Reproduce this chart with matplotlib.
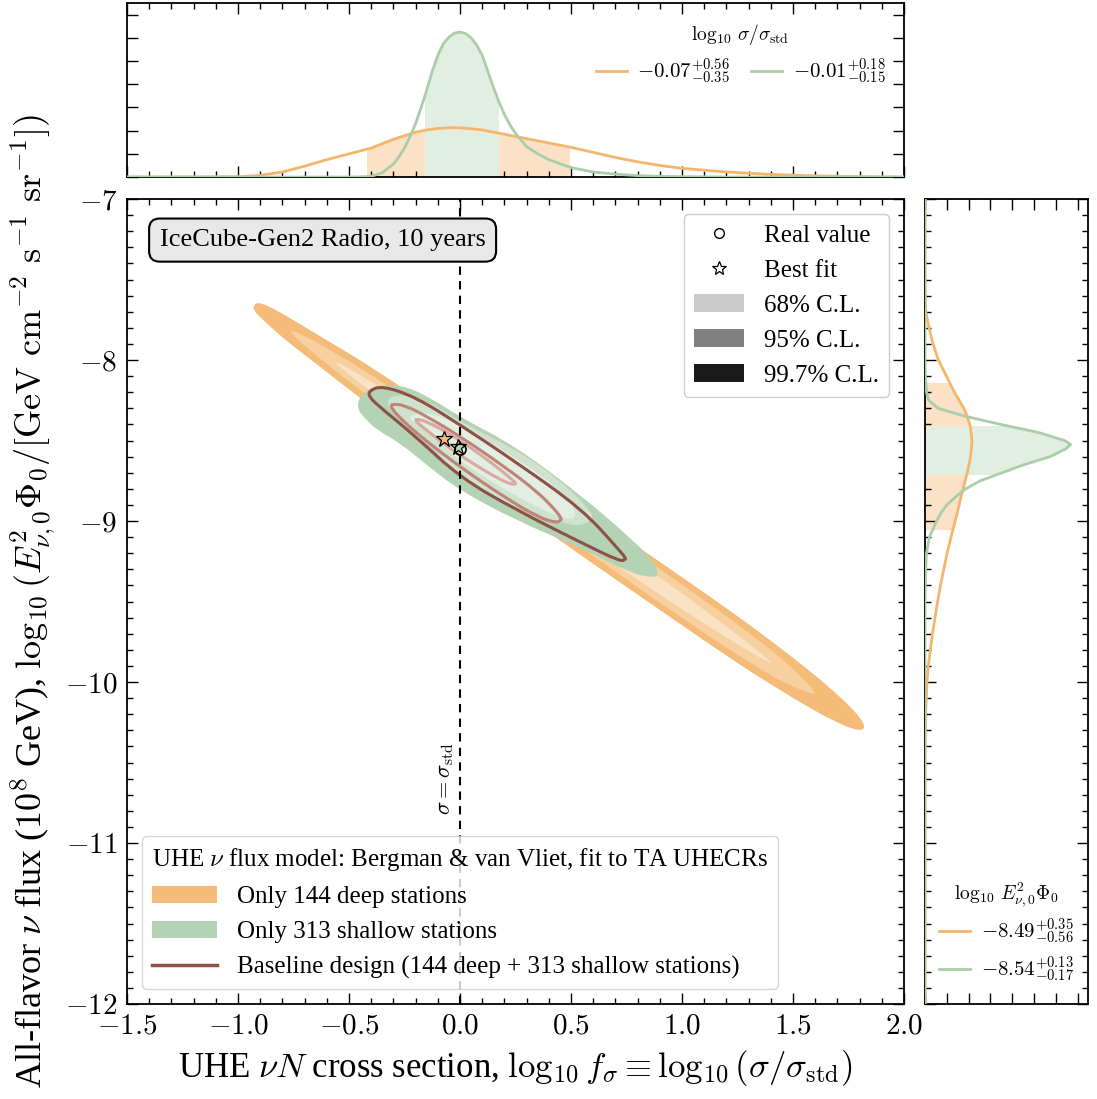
import matplotlib
matplotlib.use('Agg')
import matplotlib.pyplot as plt
import numpy as np
from matplotlib.lines import Line2D
from matplotlib.path import Path
from matplotlib.patches import Patch, PathPatch, Rectangle
from matplotlib.ticker import MultipleLocator, FormatStrFormatter

plt.rcParams['font.family'] = ['Liberation Serif', 'DejaVu Serif']
plt.rcParams['mathtext.fontset'] = 'cm'

# best fits and 68% intervals from the 1D posteriors
fsig_best = [-0.07, -0.01]
fsig_up = [0.56, 0.18]
fsig_lo = [0.35, 0.15]
flux_best = [-8.49, -8.54]
flux_up = [0.35, 0.13]
flux_lo = [0.56, 0.17]
real_fsig = 0.0
real_flux = -8.55

# 2D credible regions, only deep stations (68, 95, 99.7 %)
deep68_x = [-0.56, -0.5, -0.4, -0.2, 0.0, 0.3, 0.6, 0.9, 1.1, 1.3, 1.4]
deep68_hi = [-8.008, -8.052, -8.135, -8.314, -8.497, -8.776, -9.062, -9.347, -9.551, -9.759, -9.873]
deep68_lo = [-8.020, -8.090, -8.197, -8.400, -8.597, -8.888, -9.174, -9.459, -9.637, -9.809, -9.885]

deep95_x = [-0.76, -0.7, -0.6, -0.5, -0.4, -0.2, 0.0, 0.3, 0.6, 0.9, 1.2, 1.4, 1.5, 1.6]
deep95_hi = [-7.812, -7.850, -7.926, -8.009, -8.091, -8.276, -8.460, -8.739, -9.019, -9.297, -9.590, -9.798, -9.918, -10.057]
deep95_lo = [-7.836, -7.912, -8.026, -8.133, -8.241, -8.438, -8.634, -8.925, -9.217, -9.509, -9.788, -9.960, -10.030, -10.081]

deep997_x = [-0.93, -0.9, -0.8, -0.7, -0.6, -0.5, -0.4, -0.2, 0.0, 0.3, 0.6, 0.9, 1.2, 1.4, 1.6, 1.7, 1.77, 1.82]
deep997_hi = [-7.655, -7.640, -7.711, -7.794, -7.877, -7.959, -8.045, -8.227, -8.410, -8.689, -8.969, -9.254, -9.540, -9.742, -9.957, -10.078, -10.169, -10.255]
deep997_lo = [-7.690, -7.735, -7.861, -7.968, -8.075, -8.183, -8.287, -8.487, -8.684, -8.975, -9.267, -9.552, -9.838, -10.016, -10.181, -10.252, -10.293, -10.300]

# only shallow stations
shal68_x = [-0.225, -0.135, 0.0, 0.257, 0.45, 0.518]
shal68_hi = [-8.342, -8.323, -8.404, -8.609, -8.807, -8.919]
shal68_lo = [-8.373, -8.447, -8.634, -8.851, -8.981, -8.994]

shal95_x = [-0.324, -0.27, -0.135, 0.0, 0.257, 0.45, 0.554, 0.595]
shal95_hi = [-8.236, -8.211, -8.261, -8.385, -8.559, -8.745, -8.888, -8.957]
shal95_lo = [-8.298, -8.360, -8.515, -8.745, -8.919, -9.012, -9.031, -8.981]

shal997_x = [-0.46, -0.43, -0.38, -0.27, -0.13, 0.0, 0.25, 0.55, 0.78, 0.87, 0.89]
shal997_hi = [-8.25, -8.20, -8.165, -8.15, -8.235, -8.355, -8.535, -8.845, -9.12, -9.25, -9.31]
shal997_lo = [-8.31, -8.36, -8.43, -8.515, -8.675, -8.81, -8.995, -9.17, -9.33, -9.35, -9.34]

# baseline design (deep + shallow)
base68_x = [-0.20, -0.15, -0.05, 0.05, 0.15, 0.22, 0.25]
base68_hi = [-8.365, -8.382, -8.455, -8.546, -8.647, -8.726, -8.762]
base68_lo = [-8.381, -8.436, -8.545, -8.636, -8.719, -8.768, -8.772]

base95_x = [-0.31, -0.25, -0.15, 0.0, 0.2, 0.35, 0.43, 0.455]
base95_hi = [-8.272, -8.280, -8.350, -8.474, -8.662, -8.820, -8.933, -8.980]
base95_lo = [-8.300, -8.388, -8.506, -8.664, -8.852, -8.974, -9.011, -8.996]

base997_x = [-0.41, -0.35, -0.2, 0.0, 0.25, 0.55, 0.72, 0.745]
base997_hi = [-8.19, -8.160, -8.230, -8.402, -8.632, -8.926, -9.185, -9.228]
base997_lo = [-8.23, -8.305, -8.475, -8.729, -8.929, -9.137, -9.250, -9.240]

# 1D marginal posteriors of log10 f_sigma (arbitrary normalisation)
fsig_grid_deep = [-1.5, -1.0, -0.9, -0.8, -0.7, -0.6, -0.5, -0.45, -0.4, -0.35, -0.3, -0.25, -0.2,
                  -0.15, -0.1, -0.05, 0.0, 0.05, 0.1, 0.15, 0.2, 0.25, 0.3, 0.35, 0.4, 0.5, 0.6,
                  0.7, 0.8, 0.9, 1.0, 1.2, 1.4, 1.6, 1.8, 2.0]
fsig_deep = [0, 0.002, 0.012, 0.035, 0.075, 0.12, 0.16, 0.18, 0.20, 0.23, 0.26, 0.285, 0.31,
             0.325, 0.335, 0.34, 0.34, 0.333, 0.325, 0.31, 0.295, 0.28, 0.265, 0.25, 0.235, 0.205, 0.17,
             0.135, 0.105, 0.08, 0.06, 0.035, 0.018, 0.008, 0.003, 0.0]
fsig_grid_shallow = [-1.5, -0.5, -0.45, -0.4, -0.35, -0.3, -0.275, -0.25, -0.225, -0.2, -0.175,
                     -0.15, -0.125, -0.1, -0.075, -0.05, -0.025, 0.0, 0.025, 0.05, 0.075, 0.1,
                     0.125, 0.15, 0.175, 0.2, 0.225, 0.25, 0.3, 0.35, 0.4, 0.5, 0.6, 0.7, 0.8,
                     0.9, 1.0, 1.2, 2.0]
fsig_shallow = [0, 0, 0.001, 0.005, 0.03, 0.09, 0.14, 0.2, 0.28, 0.37, 0.48,
                0.6, 0.73, 0.84, 0.92, 0.965, 0.993, 1.0, 0.99, 0.96, 0.91, 0.84,
                0.73, 0.62, 0.52, 0.43, 0.36, 0.3, 0.21, 0.16, 0.12, 0.065, 0.035, 0.02, 0.01,
                0.005, 0.003, 0, 0]

# 1D marginal posteriors of log10 E^2 Phi_0
flux_grid = [-12.0, -10.5, -10.2, -10.0, -9.9, -9.8, -9.7, -9.6, -9.5, -9.4, -9.3, -9.2, -9.1,
             -9.0, -8.95, -8.9, -8.85, -8.8, -8.75, -8.7, -8.65, -8.6, -8.55, -8.525, -8.5, -8.45, -8.4,
             -8.35, -8.3, -8.25, -8.2, -8.1, -8.0, -7.9, -7.8, -7.7, -7.5, -7.0]
flux_deep = [0, 0, 0.004, 0.014, 0.023, 0.037, 0.051, 0.069, 0.087, 0.106, 0.129, 0.152, 0.179,
             0.207, 0.221, 0.235, 0.248, 0.262, 0.276, 0.29, 0.302, 0.313, 0.319, 0.321, 0.322, 0.317, 0.308,
             0.29, 0.267, 0.235, 0.202, 0.147, 0.092, 0.055, 0.028, 0.005, 0, 0]
flux_shallow = [0, 0, 0, 0, 0, 0, 0, 0, 0, 0.002, 0.005, 0.01, 0.03,
                0.08, 0.11, 0.15, 0.21, 0.28, 0.38, 0.53, 0.68, 0.86, 0.97, 1.0, 0.96, 0.78, 0.52,
                0.28, 0.09, 0.025, 0.01, 0.003, 0, 0, 0, 0, 0, 0]

ORANGE = ['#fae2c4', '#f7d0a0', '#f4bc78']
GREEN = ['#e3eee2', '#cfe2ce', '#b4d3b4']
BROWN = ['#d8a8a2', '#bf837a', '#8e5047']
ORANGE_LINE = '#f4b66c'
GREEN_LINE = '#a9cea9'
ORANGE_FILL = '#fbe1c6'
GREEN_FILL = '#e3eee3'


def region(ax, x, hi, lo, **kw):
    # closed outline through the upper then lower edge, drawn as a smooth quadratic spline
    pts = np.array(list(zip(x, hi)) + list(zip(x[::-1], lo[::-1])))
    mids = (pts + np.roll(pts, -1, axis=0)) / 2
    verts = [mids[-1]]
    codes = [Path.MOVETO]
    for p, m in zip(pts, mids):
        verts += [p, m]
        codes += [Path.CURVE3, Path.CURVE3]
    ax.add_patch(PathPatch(Path(verts, codes), **kw))


def style_ticks(ax):
    ax.tick_params(which='both', direction='in', top=True, right=True, width=1.0)
    ax.tick_params(which='major', length=8)
    ax.tick_params(which='minor', length=4)
    for s in ax.spines.values():
        s.set_linewidth(1.3)


fig = plt.figure(figsize=(10.97, 10.99), dpi=100)
ax = fig.add_axes([0.1158, 0.0864, 0.7083, 0.7325])
ax_top = fig.add_axes([0.1158, 0.8389, 0.7083, 0.1583], sharex=ax)
ax_right = fig.add_axes([0.8432, 0.0864, 0.1486, 0.7325], sharey=ax)

# main panel: 2D regions
for x, hi, lo, c in [(deep997_x, deep997_hi, deep997_lo, ORANGE[2]),
                     (deep95_x, deep95_hi, deep95_lo, ORANGE[1]),
                     (deep68_x, deep68_hi, deep68_lo, ORANGE[0]),
                     (shal997_x, shal997_hi, shal997_lo, GREEN[2]),
                     (shal95_x, shal95_hi, shal95_lo, GREEN[1]),
                     (shal68_x, shal68_hi, shal68_lo, GREEN[0])]:
    region(ax, x, hi, lo, facecolor=c, edgecolor='none', lw=0, zorder=1)

for x, hi, lo, c in [(base997_x, base997_hi, base997_lo, BROWN[2]),
                     (base95_x, base95_hi, base95_lo, BROWN[1]),
                     (base68_x, base68_hi, base68_lo, BROWN[0])]:
    region(ax, x, hi, lo, facecolor='none', edgecolor=c, lw=2.2, zorder=2)

ax.axvline(real_fsig, color='k', ls=(0, (4, 3)), lw=1.5, zorder=3)
ax.text(real_fsig - 0.02, -10.6, r'$\sigma = \sigma_{\rm std}$', rotation=90,
        ha='right', va='center', fontsize=16)

ax.plot(fsig_best[0], flux_best[0], ls='none', marker='*', ms=12, mfc=ORANGE[2], mec='k', mew=0.9, zorder=5)
ax.plot(fsig_best[1], flux_best[1], ls='none', marker='*', ms=12, mfc=GREEN[2], mec='k', mew=0.9, zorder=5)
ax.plot(real_fsig, real_flux, ls='none', marker='o', ms=8, mfc='none', mec='k', mew=1.2, zorder=6)

ax.set_xlim(-1.5, 2.0)
ax.set_ylim(-12, -7)
ax.xaxis.set_major_locator(MultipleLocator(0.5))
ax.xaxis.set_minor_locator(MultipleLocator(0.1))
ax.yaxis.set_major_locator(MultipleLocator(1))
ax.yaxis.set_minor_locator(MultipleLocator(0.1))
ax.xaxis.set_major_formatter(FormatStrFormatter('$%.1f$'))
ax.yaxis.set_major_formatter(FormatStrFormatter('$%d$'))
style_ticks(ax)
ax.tick_params(which='major', labelsize=21, pad=7)

ax.set_xlabel(r'UHE $\nu N$ cross section, $\log_{10} f_\sigma \equiv \log_{10}(\sigma/\sigma_{\rm std})$',
              fontsize=25, labelpad=6)
ax.set_ylabel(r'All-flavor $\nu$ flux ($10^8$ GeV), $\log_{10}(E_{\nu,0}^2\Phi_0/[{\rm GeV\ cm^{-2}\ s^{-1}\ sr^{-1}}])$',
              fontsize=26, labelpad=5)

ax.text(0.042, 0.949, 'IceCube-Gen2 Radio, 10 years', transform=ax.transAxes, fontsize=19,
        ha='left', va='center',
        bbox=dict(boxstyle='round,pad=0.4', fc='#e8e8e8', ec='k', lw=1.5))

cl_handles = [Line2D([], [], ls='none', marker='o', ms=7, mfc='none', mec='k', mew=1.0),
              Line2D([], [], ls='none', marker='*', ms=10, mfc='none', mec='k', mew=0.9),
              Patch(fc='#cccccc'), Patch(fc='#808080'), Patch(fc='#1a1a1a')]
cl_labels = ['Real value', 'Best fit', '68% C.L.', '95% C.L.', '99.7% C.L.']
leg1 = ax.legend(cl_handles, cl_labels, loc='upper right', fontsize=18, fancybox=True,
                 edgecolor='#cccccc', framealpha=1, handlelength=2.0, labelspacing=0.5,
                 handletextpad=0.8, borderaxespad=0.6)
ax.add_artist(leg1)

model_handles = [Patch(fc=ORANGE[2]), Patch(fc=GREEN[2]), Line2D([], [], color=BROWN[2], lw=2.5)]
model_labels = ['Only 144 deep stations', 'Only 313 shallow stations',
                'Baseline design (144 deep + 313 shallow stations)']
ax.legend(model_handles, model_labels, loc='lower left', fontsize=18, title_fontsize=18,
          title=r'UHE $\nu$ flux model: Bergman & van Vliet, fit to TA UHECRs',
          alignment='left', fancybox=True, edgecolor='#cccccc', handlelength=2.6,
          labelspacing=0.5, handletextpad=0.8, borderaxespad=0.6)

# top panel: cross-section marginal
for grid, vals, best, up, lo, fill_c, z in [
        (fsig_grid_deep, fsig_deep, fsig_best[0], fsig_up[0], fsig_lo[0], ORANGE_FILL, 1),
        (fsig_grid_shallow, fsig_shallow, fsig_best[1], fsig_up[1], fsig_lo[1], GREEN_FILL, 2)]:
    f = ax_top.fill_between(grid, 0, vals, color=fill_c, lw=0, zorder=z)
    f.set_clip_path(Rectangle((best - lo, 0), up + lo, 2, transform=ax_top.transData))
ax_top.plot(fsig_grid_deep, fsig_deep, color=ORANGE_LINE, lw=2.0, zorder=3)
ax_top.plot(fsig_grid_shallow, fsig_shallow, color=GREEN_LINE, lw=2.0, zorder=3)
ax_top.set_ylim(0, 1.2)
ax_top.yaxis.set_major_locator(MultipleLocator(0.16))
ax_top.yaxis.set_minor_locator(MultipleLocator(0.16))
style_ticks(ax_top)
ax_top.tick_params(labelbottom=False, labelleft=False)

top_labels = [r'$%.2f^{+%.2f}_{-%.2f}$' % (b, u, l) for b, u, l in zip(fsig_best, fsig_up, fsig_lo)]
ax_top.legend([Line2D([], [], color=ORANGE_LINE, lw=2), Line2D([], [], color=GREEN_LINE, lw=2)],
              top_labels, ncol=2, loc='upper right', frameon=False, fontsize=15,
              title=r'$\log_{10}\,\sigma/\sigma_{\rm std}$', title_fontsize=14,
              handlelength=1.5, columnspacing=1.0, handletextpad=0.5, borderaxespad=0.5)

# right panel: flux marginal
for vals, best, up, lo, fill_c, z in [(flux_deep, flux_best[0], flux_up[0], flux_lo[0], ORANGE_FILL, 1),
                                      (flux_shallow, flux_best[1], flux_up[1], flux_lo[1], GREEN_FILL, 2)]:
    f = ax_right.fill_betweenx(flux_grid, 0, vals, color=fill_c, lw=0, zorder=z)
    f.set_clip_path(Rectangle((0, best - lo), 2, up + lo, transform=ax_right.transData))
for vals, c in [(flux_deep, ORANGE_LINE), (flux_shallow, GREEN_LINE)]:
    ax_right.plot(vals, flux_grid, color=c, lw=2.0, zorder=3)
ax_right.set_xlim(0, 1.12)
ax_right.xaxis.set_major_locator(MultipleLocator(0.15))
style_ticks(ax_right)
ax_right.tick_params(labelbottom=False, labelleft=False)

right_labels = [r'$%.2f^{+%.2f}_{-%.2f}$' % (b, u, l) for b, u, l in zip(flux_best, flux_up, flux_lo)]
ax_right.legend([Line2D([], [], color=ORANGE_LINE, lw=2), Line2D([], [], color=GREEN_LINE, lw=2)],
                right_labels, loc='lower center', frameon=False, fontsize=15,
                title=r'$\log_{10}\,E_{\nu,0}^2\Phi_0$', title_fontsize=14,
                handlelength=1.5, handletextpad=0.5, borderaxespad=0.5, labelspacing=0.4)

fig.savefig('out.png', dpi=100)
